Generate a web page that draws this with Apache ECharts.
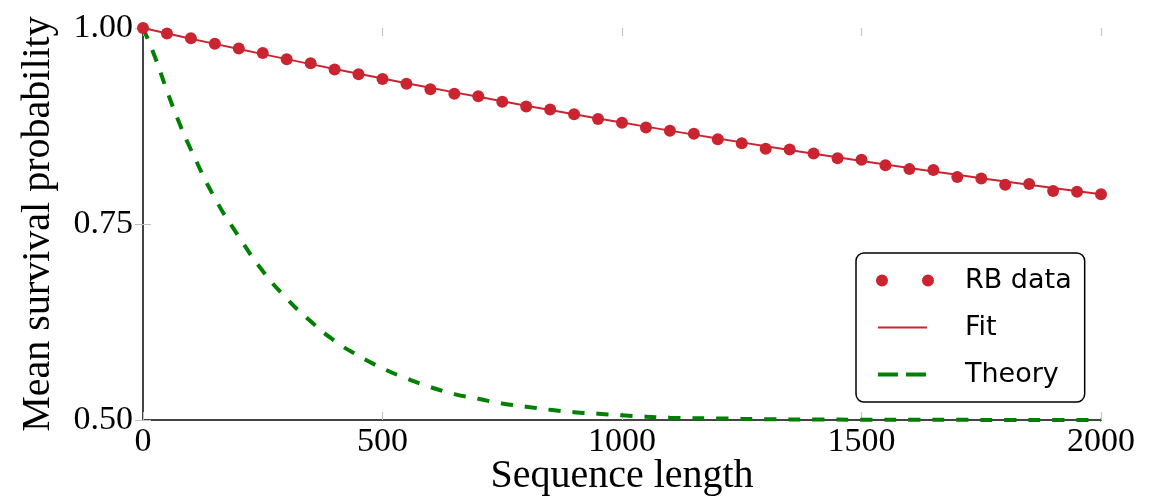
<!DOCTYPE html>
<html>
<head>
<meta charset="utf-8">
<script src="https://cdn.jsdelivr.net/npm/echarts@6/dist/echarts.min.js"></script>
<style>html,body{margin:0;padding:0;background:#fff}#c{width:1167px;height:500px}</style>
</head>
<body>
<div id="c"></div>
<script>
// ---- data ----
const rbX = [0,50,100,150,200,250,300,350,400,450,500,550,600,650,700,750,800,850,900,950,1000,1050,1100,1150,1200,1250,1300,1350,1400,1450,1500,1550,1600,1650,1700,1750,1800,1850,1900,1950,2000];
const rbY = [1.000,0.993,0.987,0.980,0.974,0.968,0.960,0.955,0.947,0.941,0.935,0.929,0.922,0.916,0.913,0.906,0.900,0.896,0.890,0.884,0.879,0.873,0.869,0.865,0.858,0.853,0.846,0.845,0.840,0.834,0.832,0.825,0.820,0.819,0.810,0.808,0.800,0.801,0.792,0.791,0.788];
const fitX = [0,100,200,300,400,500,600,700,800,900,1000,1100,1200,1300,1400,1500,1600,1700,1800,1900,2000];
const fitY = [1.0000,0.9864,0.9732,0.9603,0.9477,0.9356,0.9237,0.9122,0.9009,0.8900,0.8794,0.8691,0.8590,0.8493,0.8397,0.8305,0.8215,0.8127,0.8042,0.7960,0.7879];
const theoryX = [0,25,50,75,100,150,200,250,300,350,400,450,500,550,600,650,700,750,800,850,900,950,1000,1100,1200,1300,1400,1500,1600,1700,1800,1900,2000];
const theoryY = [1.000,0.963,0.920,0.880,0.845,0.783,0.734,0.690,0.655,0.626,0.601,0.582,0.566,0.553,0.542,0.533,0.527,0.521,0.517,0.513,0.510,0.508,0.506,0.503,0.502,0.501,0.5007,0.5004,0.5003,0.5002,0.5001,0.5001,0.5000];
const xTicks = {min: 0, max: 2000, interval: 500};
const yTicks = {min: 0.5, max: 1.0, interval: 0.25};
const seriesNames = ['RB data', 'Fit', 'Theory'];
const xTitle = 'Sequence length';
const yTitle = 'Mean survival probability';

const zip = (xs, ys) => xs.map((x, i) => [x, ys[i]]);
const RED = '#cb2431', GREEN = '#008000';
const serif = 'Liberation Serif';

const chart = echarts.init(document.getElementById('c'), null, {renderer: 'canvas'});
const tickStyle = {show: true, inside: true, length: 8, lineStyle: {color: '#c0c0c0', width: 1}};
chart.setOption({
  animation: false,
  backgroundColor: '#fff',
  grid: {left: 143, right: 66, top: 28, bottom: 80, containLabel: false, outerBoundsMode: 'none'},
  xAxis: [{
    type: 'value', min: xTicks.min, max: xTicks.max, interval: xTicks.interval,
    name: xTitle, nameLocation: 'middle', nameGap: 36, nameMoveOverlap: false,
    nameTextStyle: {fontFamily: serif, fontSize: 40, color: '#000'},
    axisLine: {show: true, onZero: false, lineStyle: {color: '#444', width: 2}},
    axisTick: tickStyle,
    axisLabel: {fontFamily: serif, fontSize: 34, color: '#000', margin: 5, formatter: v => String(v)},
    splitLine: {show: false}
  }, {
    type: 'value', position: 'top', min: xTicks.min, max: xTicks.max, interval: xTicks.interval,
    axisLine: {show: false}, axisTick: tickStyle, axisLabel: {show: false}, splitLine: {show: false}
  }],
  yAxis: [{
    type: 'value', min: yTicks.min, max: yTicks.max, interval: yTicks.interval,
    name: yTitle, nameLocation: 'middle', nameGap: 85, nameMoveOverlap: false,
    nameTextStyle: {fontFamily: serif, fontSize: 40, color: '#000'},
    axisLine: {show: true, onZero: false, lineStyle: {color: '#444', width: 2}},
    axisTick: tickStyle,
    axisLabel: {fontFamily: serif, fontSize: 34, color: '#000', margin: 10, formatter: v => v.toFixed(2)},
    splitLine: {show: false}
  }, {
    type: 'value', position: 'right', min: yTicks.min, max: yTicks.max, interval: yTicks.interval,
    axisLine: {show: false}, axisTick: tickStyle, axisLabel: {show: false}, splitLine: {show: false}
  }],
  legend: {
    orient: 'vertical', left: 856, top: 253,
    padding: [14, 13, 14, 20], itemGap: 20, itemWidth: 58, itemHeight: 12,
    borderColor: '#000', borderWidth: 1.5, borderRadius: 8, backgroundColor: '#fff',
    textStyle: {fontFamily: 'DejaVu Sans', fontSize: 27, color: '#000', padding: [0, 0, 0, 26]},
    selectedMode: false,
    data: [
      {name: seriesNames[0], icon: 'path://M0,6 a6,6 0 1,0 12,0 a6,6 0 1,0 -12,0 M46,6 a6,6 0 1,0 12,0 a6,6 0 1,0 -12,0', itemStyle: {color: RED, borderWidth: 0}},
      {name: seriesNames[1], icon: 'path://M0,0 M58,12 M2,5 L51,5 L51,7 L2,7 Z', itemStyle: {color: RED, borderWidth: 0}},
      {name: seriesNames[2], icon: 'path://M0,0 M58,12 M2,4 L22,4 L22,8 L2,8 Z M30,4 L50,4 L50,8 L30,8 Z', itemStyle: {color: GREEN, borderWidth: 0}}
    ]
  },
  series: [
    {name: seriesNames[2], type: 'line', data: zip(theoryX, theoryY), smooth: true, showSymbol: false, symbol: 'none',
     lineStyle: {color: GREEN, width: 4, type: [12, 12]}, itemStyle: {color: GREEN}, z: 2},
    {name: seriesNames[1], type: 'line', data: zip(fitX, fitY), smooth: true, showSymbol: false, symbol: 'none',
     lineStyle: {color: RED, width: 2}, itemStyle: {color: RED}, z: 3},
    {name: seriesNames[0], type: 'scatter', data: zip(rbX, rbY), symbol: 'circle', symbolSize: 12,
     itemStyle: {color: RED, opacity: 1}, z: 4}
  ]
});
</script>
</body>
</html>
